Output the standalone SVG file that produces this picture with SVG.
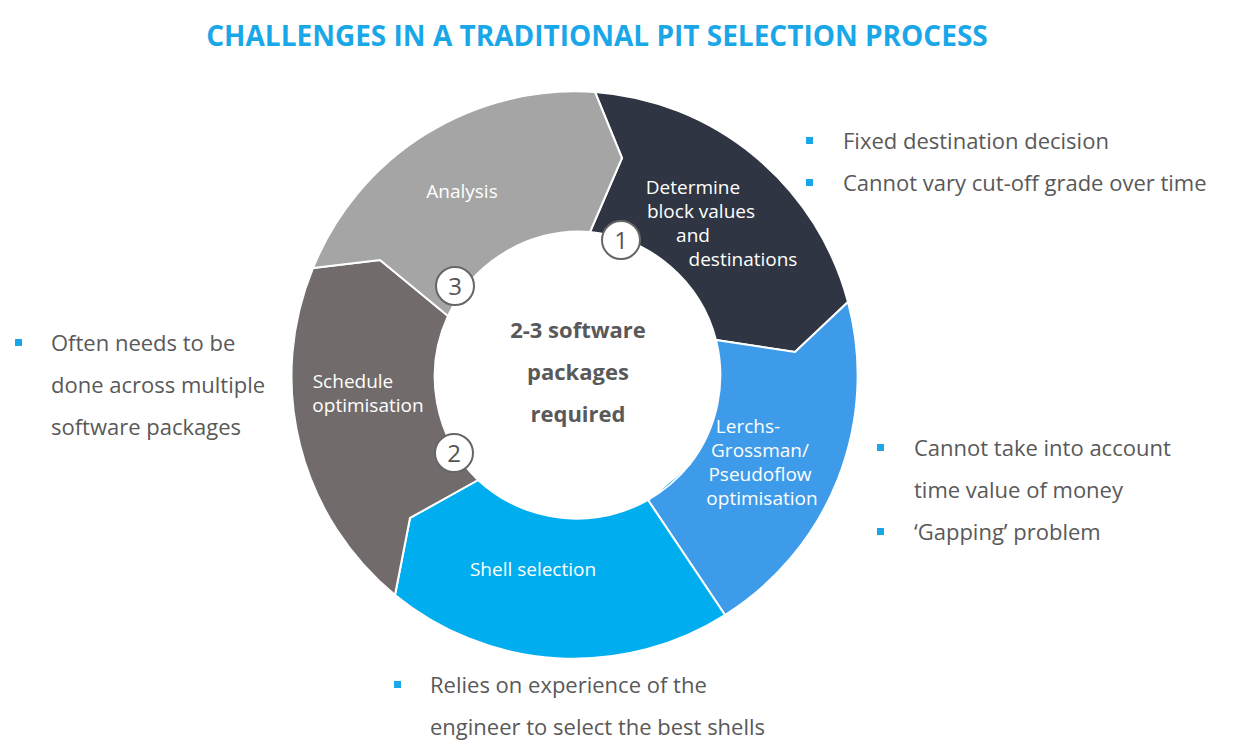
<svg xmlns="http://www.w3.org/2000/svg" width="1250" height="755" viewBox="0 0 1250 755">
<style>
.seg{stroke:#fff;stroke-width:2}
.lbl{font-family:"Open Sans",sans-serif;font-size:19px;fill:#fff;text-anchor:middle}
.bul{font-family:"Open Sans",sans-serif;font-size:22px;fill:#595959}
.sq{fill:#1aa7e8}
.num circle{fill:#fff;stroke:#666;stroke-width:2}
.num text{font-family:"Open Sans",sans-serif;font-size:24px;fill:#555;text-anchor:middle}
</style>
<rect width="1250" height="755" fill="#fff"/>
<text x="597" y="46" font-family="Open Sans,sans-serif" font-weight="bold" font-size="28" fill="#1aa7e8" text-anchor="middle">CHALLENGES IN A TRADITIONAL PIT SELECTION PROCESS</text>
<g id="determine"><path class="seg" fill="#2f3542" d="M595,92 A283,283 0 0 1 848,302 L795,352 L716,340 A145,145 0 0 0 590,232 L622,158 Z"/>
<text class="lbl"><tspan x="693" y="194">Determine</tspan><tspan x="701" y="218">block values</tspan><tspan x="693" y="242">and</tspan><tspan x="743" y="266">destinations</tspan></text></g>
<g id="lerchs"><path class="seg" fill="#3d9be9" d="M848,302 A283,283 0 0 1 725,615 L648,500 L690,464 A145,145 0 0 0 716,340 L795,352 Z"/>
<text class="lbl"><tspan x="748" y="433">Lerchs-</tspan><tspan x="760" y="457">Grossman/</tspan><tspan x="760" y="481">Pseudoflow</tspan><tspan x="762" y="505">optimisation</tspan></text></g>
<g id="shell"><path class="seg" fill="#00aeef" d="M725,615 A283,283 0 0 1 395,595 L410,518 L478,480 A145,145 0 0 0 690,464 L648,500 Z"/>
<text class="lbl" x="533" y="576">Shell selection</text></g>
<g id="schedule"><path class="seg" fill="#716c6b" d="M395,595 A283,283 0 0 1 313,268 L380,260 L448,316 A145,145 0 0 0 478,480 L410,518 Z"/>
<text class="lbl"><tspan x="353" y="388">Schedule</tspan><tspan x="368" y="412">optimisation</tspan></text></g>
<g id="analysis"><path class="seg" fill="#a5a5a5" d="M313,268 A283,283 0 0 1 595,92 L622,158 L590,232 A145,145 0 0 0 448,316 L380,260 Z"/>
<text class="lbl" x="462" y="198">Analysis</text></g>
<g id="center"><text font-family="Open Sans,sans-serif" font-weight="bold" font-size="22" fill="#595959" text-anchor="middle"><tspan x="578" y="338">2-3 software</tspan><tspan x="578" y="380">packages</tspan><tspan x="578" y="422">required</tspan></text></g>
<g id="n1" class="num"><circle cx="621" cy="240" r="19"/><text x="621" y="249">1</text></g>
<g id="n3" class="num"><circle cx="455" cy="286" r="19"/><text x="455" y="295">3</text></g>
<g id="n2" class="num"><circle cx="454" cy="453" r="19"/><text x="454" y="462">2</text></g>
<g id="b1"><rect class="sq" x="806" y="137" width="7" height="7"/><text class="bul" x="843" y="149">Fixed destination decision</text>
<rect class="sq" x="806" y="179" width="7" height="7"/><text class="bul" x="843" y="191">Cannot vary cut-off grade over time</text></g>
<g id="b2"><rect class="sq" x="15" y="339" width="7" height="7"/><text class="bul"><tspan x="51" y="351">Often needs to be</tspan><tspan x="51" y="393">done across multiple</tspan><tspan x="51" y="435">software packages</tspan></text></g>
<g id="b3"><rect class="sq" x="877" y="444" width="7" height="7"/><text class="bul"><tspan x="914" y="456">Cannot take into account</tspan><tspan x="914" y="498">time value of money</tspan></text>
<rect class="sq" x="877" y="528" width="7" height="7"/><text class="bul" x="914" y="540">‘Gapping’ problem</text></g>
<g id="b4"><rect class="sq" x="394" y="681" width="7" height="7"/><text class="bul"><tspan x="430" y="693">Relies on experience of the</tspan><tspan x="430" y="735">engineer to select the best shells</tspan></text></g>
<g id="connectors"></g>
</svg>
